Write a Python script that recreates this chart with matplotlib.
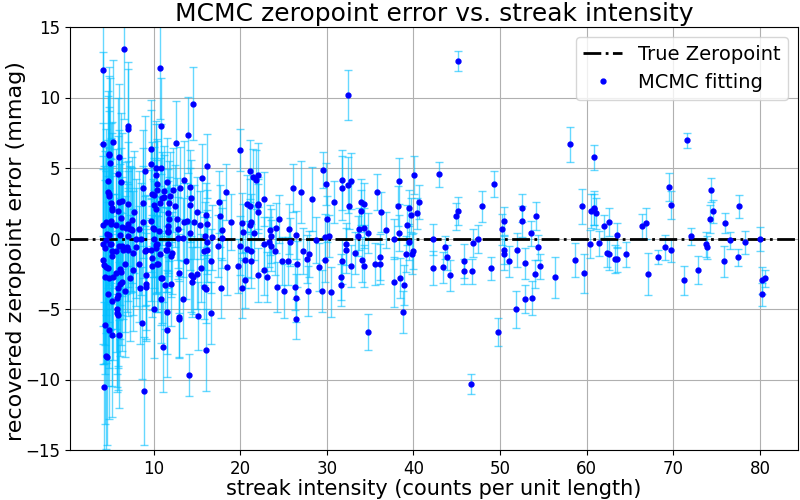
import numpy as np
import matplotlib
matplotlib.use("Agg")
import matplotlib.pyplot as plt

# streak intensity (counts per unit length)
intensity = [
    4.15, 6.57, 10.7, 7.04, 7.04, 10.9, 4.15, 5.3, 4.84, 4.9,
    6.0, 4.96, 9.7, 9.7, 10.3, 10.85, 5.9, 9.0, 10.3, 4.73,
    6.23, 10.4, 8.77, 10.4, 4.73, 4.8, 4.84, 9.8, 10.0, 5.08,
    6.0, 6.35, 7.04, 8.77, 10.0, 10.7, 5.19, 5.2, 5.88, 7.73,
    10.3, 5.08, 6.23, 7.5, 8.77, 9.7, 4.15, 4.5, 5.08, 5.65,
    6.35, 6.8, 7.04, 7.38, 8.3, 9.9, 10.0, 4.6, 4.8, 6.1,
    4.27, 8.88, 4.5, 4.6, 4.38, 4.84, 5.19, 6.0, 8.65, 11.07,
    5.77, 5.88, 5.77, 10.1, 5.19, 4.73, 5.77, 5.88, 5.88, 6.1,
    6.69, 6.35, 8.42, 9.1, 9.1, 10.85, 4.38, 4.84, 5.3, 5.65,
    7.27, 9.1, 10.85, 4.15, 4.27, 4.5, 4.7, 6.1, 6.2, 6.69,
    7.6, 8.3, 9.8, 10.4, 4.15, 4.38, 5.19, 5.19, 5.65, 6.0,
    6.46, 6.92, 7.0, 7.6, 7.96, 9.0, 9.7, 9.8, 10.3, 10.3,
    4.5, 4.96, 7.96, 8.53, 10.0, 7.0, 7.27, 7.5, 10.6, 11.65,
    12.8, 5.08, 6.35, 9.1, 10.4, 11.4, 12.0,
    14.5, 13.96, 12.57, 19.95, 16.15, 15.57, 13.5, 14.2, 13.0, 12.2,
    11.5, 11.2, 11.2, 11.9, 10.96, 11.76, 12.46, 11.65, 11.76, 11.65,
    12.7, 13.5, 13.84, 14.2, 14.3, 15.0, 14.65, 15.34, 16.03, 16.15,
    17.5, 18.34, 17.65, 17.88, 18.9, 13.4, 15.9, 16.75,
    11.65, 12.8, 14.2, 16.15, 17.4, 17.9, 11.65, 11.5, 12.1, 10.7,
    10.5, 10.96, 11.3, 12.0, 11.5, 11.5, 12.9, 13.4, 12.9, 12.9,
    13.7, 14.07, 14.3, 14.4, 14.5, 15.0, 15.1, 15.45, 15.8, 15.8,
    16.0, 16.0, 16.6, 16.6, 17.76, 18.45, 19.7, 16.15,
    32.4, 21.1, 21.45, 21.8, 22.1, 20.8, 21.1, 22.0, 22.1, 22.1,
    22.7, 20.2, 20.3, 21.1, 21.2, 21.6, 20.0, 20.8, 21.3, 20.5,
    21.2, 20.5, 20.2, 22.0, 22.7, 23.1, 22.8, 23.3, 23.4, 23.6,
    23.6, 24.0, 24.1, 24.45, 24.3, 24.8, 25.0, 25.5, 25.6, 25.7,
    26.1, 26.3, 26.4, 26.4, 26.5, 26.6, 27.0, 27.3, 27.7, 27.8,
    27.9, 28.3, 28.8, 29.1, 29.4, 29.6, 29.9, 30.0, 29.8, 30.3,
    29.8, 30.45, 30.8, 31.6, 31.6, 31.7, 31.7, 31.8, 32.2, 32.2,
    32.5, 32.6, 32.8, 32.8, 33.3, 33.6, 33.7, 34.0, 34.25, 34.0,
    34.25, 34.1, 34.25, 34.7, 34.8, 35.8, 36.3, 36.8, 35.6, 36.1,
    36.1, 37.7, 37.7, 38.2, 38.3, 38.3, 38.4, 38.75, 38.9, 39.1,
    39.3, 39.45, 39.7, 39.45, 39.8, 40.0,
    45.1, 58.1, 40.1, 43.0, 49.25, 40.7, 40.4, 44.9, 45.1, 47.9,
    59.5, 50.2, 50.5, 52.5, 52.5, 54.2, 53.6, 42.3, 47.5, 46.9,
    43.7, 43.9, 42.3, 43.4, 44.2, 45.8, 45.8, 46.8, 48.9, 50.5,
    50.5, 51.0, 51.9, 52.9, 54.4, 54.6, 54.0, 56.3, 58.7, 59.7,
    51.8, 52.9, 53.7, 49.8, 46.6,
    60.9, 71.6, 60.55, 60.8, 60.9, 61.1, 62.05, 62.6, 63.55, 60.4,
    61.4, 62.4, 62.6, 63.3, 63.55, 64.5, 66.4, 66.9, 67.1, 68.2,
    69.0, 69.55, 69.7, 69.7, 71.2, 72.0, 72.9, 73.8, 73.9, 74.2,
    74.3, 74.6, 75.8, 76.0, 76.5, 77.6, 77.5, 78.3, 80.0, 80.2,
    80.6, 80.2,
]

# recovered zeropoint error (mmag)
zp_err = [
    11.95, 13.44, 12.09, 7.95, 7.79, 7.95, 6.7, 6.84, 5.99, 5.9,
    5.78, 5.35, 6.35, 5.28, 5.0, 5.0, 4.57, 4.79, 4.5, 4.08,
    4.0, 3.87, 3.58, 3.44, 3.3, 3.15, 3.0, 3.15, 3.07, 2.52,
    2.59, 2.66, 2.45, 2.52, 2.38, 2.52, 2.16, 2.0, 1.95, 1.88,
    2.09, 1.24, 1.45, 1.31, 1.17, 1.24, 0.96, 1.17, 1.03, 0.96,
    0.82, 0.74, 1.03, 0.67, 0.67, 0.74, 0.67, 0.32, 0.25, 0.25,
    -10.53, -10.82, -8.36, -8.41, -6.14, -6.49, -6.84, -6.84, -5.99, -7.7,
    -5.0, -5.43, -5.28, -5.0, -4.43, -3.94, -4.22, -4.01, -3.51, -3.23,
    -3.72, -3.09, -3.51, -3.44, -3.23, -4.29, -2.73, -2.8, -2.73, -2.45,
    -2.8, -2.59, -2.8, -1.52, -1.88, -2.02, -2.09, -2.16, -2.38, -1.81,
    -2.23, -1.81, -1.95, -1.81, -0.39, -0.67, -0.89, -1.24, -0.89, -0.51,
    -0.82, -0.6, -0.82, -1.03, -0.6, -0.89, -0.82, -1.38, -0.46, -0.67,
    -0.11, -0.39, -0.01, -0.04, -0.04, 0.18, 0.67, 0.58, 0.53, 0.55,
    0.7, -0.39, -0.53, -0.79, -0.39, -0.79, -1.27,
    9.56, 7.34, 6.77, 6.3, 5.14, 4.29, 4.15, 3.65, 3.58, 3.44,
    4.0, 3.37, 2.94, 3.01, 2.87, 2.52, 2.3, 1.81, 1.38, 0.89,
    1.38, 1.17, 1.24, 2.38, 2.87, 1.88, 1.17, 0.96, 1.67, 1.03,
    2.59, 3.3, 1.6, 0.6, 1.17, 0.04, 0.18, 0.1,
    0.46, 0.04, 0.39, -0.25, -0.53, 0.04, -0.39, -0.82, -1.03, -1.1,
    -1.81, -2.8, -3.3, -3.23, -5.21, -6.49, -2.45, -4.29, -5.57, -5.71,
    -1.6, -9.68, -2.59, -3.09, -2.73, -2.52, -5.5, -2.09, -0.89, -3.44,
    -3.58, -7.91, -1.6, -5.28, -3.51, -2.02, -1.95, -0.79,
    10.18, 4.81, 4.36, 4.17, 4.5, 2.47, 2.33, 2.38, 2.45, 1.88,
    2.8, 1.1, 0.46, 0.93, 1.14, 0.39, -0.51, -0.74, -0.89, -1.52,
    -1.6, -2.94, -3.51, -2.59, -2.23, -2.73, -0.37, -0.25, 0.6, 0.18,
    -0.51, -0.89, 0.74, 1.38, -3.44, -1.6, -3.72, -1.6, 0.67, -0.25,
    3.58, -3.44, -4.22, -5.71, 0.25, -1.81, 3.3, -0.89, -1.45, -3.72,
    -1.1, 2.8, -0.11, -2.02, -3.72, 4.86, 3.87, 1.38, 0.11, 0.18,
    -1.52, -3.79, 2.59, -2.73, -3.3, -1.6, 3.58, 4.15, -0.39, -0.82,
    3.79, 2.3, 4.08, -1.95, -1.03, 0.18, 0.67, 2.59, 2.45, 1.95,
    0.74, -1.52, -1.95, -6.63, 0.39, 3.3, 1.88, 0.6, -1.81, -1.81,
    -1.31, -0.04, -3.09, 2.3, 4.08, 0.39, -2.8, -5.21, -3.3, -1.1,
    0.96, 2.16, 1.67, -0.25, -1.1, -0.89,
    12.57, 6.68, 4.48, 4.55, 3.84, 2.57, 1.79, 1.57, 1.93, 2.28,
    2.28, 0.65, 1.22, 2.14, 1.22, 1.57, 0.37, -0.06, -0.06, -0.34,
    -0.62, -1.33, -2.11, -2.04, -2.61, -1.62, -2.33, -2.33, -2.11, -0.84,
    -1.12, -1.62, -0.84, -1.76, -0.62, -1.97, -2.54, -2.75, -1.55, -2.47,
    -5.02, -4.31, -4.24, -6.65, -10.34,
    5.76, 6.96, 1.93, 2.07, 2.14, 1.79, 0.87, 1.15, 0.23, -0.41,
    -0.34, -1.05, -1.12, -1.48, -1.48, -1.12, 0.87, 1.08, -2.54, -1.33,
    -0.62, 3.63, 2.35, -0.84, -2.96, 0.16, -2.26, -0.41, -0.62, 1.36,
    3.42, 1.93, -1.62, 1.08, -0.13, 2.28, -1.33, -0.27, -0.06, -2.96,
    -2.82, -3.96,
]

# 1-sigma uncertainty of each fit (mmag)
zp_sigma = [
    7.0, 5.0, 3.6, 4.6, 4.2, 3.4, 6.5, 5.8, 6.2, 5.6,
    5.2, 6.0, 3.5, 3.8, 3.3, 3.1, 5.4, 3.9, 3.6, 6.4,
    4.9, 3.2, 4.1, 3.5, 6.8, 5.9, 6.3, 3.7, 3.4, 5.7,
    5.1, 4.8, 4.4, 3.9, 3.3, 3.2, 6.1, 5.5, 5.3, 4.3,
    3.5, 5.9, 5.0, 4.5, 4.0, 3.6, 7.2, 6.6, 6.0, 5.4,
    4.9, 4.7, 4.5, 4.4, 4.1, 3.5, 3.4, 6.7, 6.2, 5.0,
    6.0, 3.8, 6.6, 6.2, 7.0, 6.3, 5.8, 5.2, 4.0, 3.2,
    5.5, 5.3, 5.6, 3.5, 6.0, 6.5, 5.4, 5.2, 5.5, 5.1,
    4.7, 4.9, 4.0, 3.8, 3.9, 3.1, 6.9, 6.4, 5.9, 5.6,
    4.5, 3.9, 3.3, 7.4, 7.0, 6.8, 6.5, 5.0, 5.2, 4.8,
    4.3, 4.1, 3.6, 3.4, 7.1, 6.9, 6.0, 5.7, 5.5, 5.3,
    4.9, 4.6, 4.7, 4.4, 4.2, 3.9, 3.6, 3.7, 3.4, 3.3,
    6.6, 6.1, 4.2, 4.0, 3.5, 4.6, 4.5, 4.4, 3.2, 3.0,
    2.8, 6.0, 4.9, 3.9, 3.4, 3.0, 2.9,
    2.6, 2.7, 3.0, 1.5, 2.3, 2.4, 2.8, 2.6, 2.9, 3.0,
    3.1, 3.2, 3.0, 3.1, 3.3, 3.0, 2.9, 3.1, 3.0, 3.2,
    2.9, 2.8, 2.7, 2.6, 2.7, 2.5, 2.6, 2.4, 2.3, 2.4,
    2.2, 2.0, 2.2, 2.1, 2.0, 2.8, 2.4, 2.3,
    3.1, 2.9, 2.6, 2.3, 2.2, 2.1, 3.1, 3.0, 2.9, 3.3,
    3.4, 3.2, 3.1, 3.0, 3.0, 3.3, 2.8, 2.8, 2.9, 2.7,
    2.7, 1.5, 2.6, 2.5, 2.6, 2.5, 2.4, 2.4, 2.4, 2.3,
    2.4, 2.9, 2.3, 2.2, 2.1, 2.0, 1.9, 2.3,
    1.8, 2.2, 2.0, 2.1, 2.3, 2.0, 1.9, 2.0, 1.8, 2.0,
    1.9, 2.1, 2.0, 1.9, 2.0, 1.9, 2.1, 2.0, 1.9, 2.0,
    1.9, 2.0, 2.1, 1.9, 1.8, 1.8, 1.9, 1.8, 1.8, 1.9,
    1.8, 1.7, 1.8, 1.7, 1.8, 1.7, 1.9, 1.7, 1.8, 1.7,
    1.7, 1.6, 1.7, 1.4, 1.7, 1.6, 2.2, 1.6, 1.7, 1.8,
    1.6, 2.3, 1.6, 1.7, 1.5, 1.3, 1.5, 1.6, 1.6, 1.5,
    1.6, 1.8, 1.5, 1.6, 1.5, 1.6, 2.3, 2.1, 1.5, 1.6,
    2.0, 1.6, 2.0, 1.5, 1.5, 1.4, 1.5, 1.6, 1.5, 1.5,
    1.4, 1.6, 1.5, 1.25, 1.4, 1.3, 1.4, 1.3, 1.5, 1.4,
    1.6, 1.4, 1.8, 1.4, 1.6, 1.3, 1.4, 1.47, 1.4, 1.3,
    1.4, 1.3, 1.2, 1.3, 1.4, 1.3,
    0.71, 1.24, 1.35, 0.9, 0.92, 1.2, 1.1, 0.95, 1.0, 1.1,
    1.24, 1.1, 1.0, 1.0, 1.1, 1.0, 0.9, 1.1, 1.0, 1.0,
    0.8, 0.9, 1.2, 1.1, 1.1, 1.2, 0.9, 0.9, 0.8, 1.0,
    1.1, 1.1, 1.2, 1.1, 0.9, 0.9, 1.0, 1.44, 1.2, 1.4,
    1.33, 1.0, 1.2, 0.98, 0.71,
    0.9, 0.53, 1.2, 1.1, 1.2, 1.1, 0.8, 1.0, 0.9, 1.0,
    0.9, 1.0, 1.1, 1.0, 0.9, 0.9, 0.9, 1.1, 1.5, 0.5,
    0.9, 1.0, 1.0, 0.8, 1.03, 0.6, 1.0, 0.9, 0.8, 1.0,
    0.85, 0.8, 1.1, 0.7, 0.6, 0.8, 0.6, 0.8, 0.85, 0.95,
    0.6, 0.8,
]

intensity = np.array(intensity)
zp_err = np.array(zp_err)
zp_sigma = np.array(zp_sigma)

fig, ax = plt.subplots(figsize=(8, 5), dpi=100)

ax.errorbar(intensity, zp_err, yerr=zp_sigma, fmt='none', ecolor='deepskyblue',
            alpha=0.6, elinewidth=1, capsize=3, zorder=2)
ax.axhline(0, color='k', linestyle='-.', linewidth=2, label='True Zeropoint', zorder=3)
ax.plot(intensity, zp_err, 'o', color='blue', markersize=3.5, linestyle='none',
        label='MCMC fitting', zorder=4)

ax.set_xlim(0.35, 84.4)
ax.set_ylim(-15, 15)
ax.grid(True)
ax.set_axisbelow(True)
ax.tick_params(labelsize=12)
ax.set_xlabel('streak intensity (counts per unit length)', fontsize=15, labelpad=1)
ax.set_ylabel('recovered zeropoint error (mmag)', fontsize=16)
ax.yaxis.set_label_coords(-0.06, 0.47)
ax.set_title('MCMC zeropoint error vs. streak intensity', fontsize=18, pad=4)
ax.legend(loc='upper right', fontsize=14)

fig.subplots_adjust(left=0.0875, right=0.9975, top=0.946, bottom=0.1)
fig.savefig('out.png')
